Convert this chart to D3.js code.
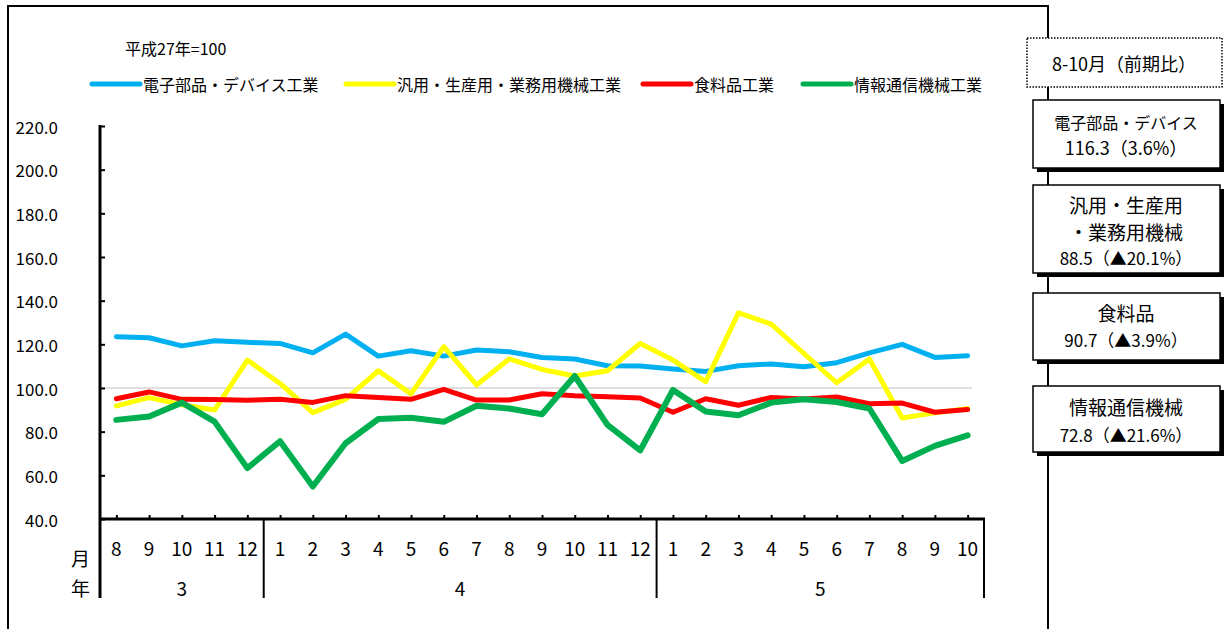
<!DOCTYPE html>
<html><head><meta charset="utf-8">
<script src="https://cdn.jsdelivr.net/npm/d3@7"></script>
<style>
html,body{margin:0;padding:0;background:#fff;}
svg{display:block;font-family:"Noto Sans CJK JP","Noto Sans",sans-serif;}
</style></head>
<body>
<svg id="chart" width="1228" height="629"></svg>
<script>
// ---- data ----
const months = ["8","9","10","11","12","1","2","3","4","5","6","7","8","9","10","11","12","1","2","3","4","5","6","7","8","9","10"];
const yearLabels = ["3","4","5"];
const yearCounts = [5,12,10];
const seriesNames = ["電子部品・デバイス工業","汎用・生産用・業務用機械工業","食料品工業","情報通信機械工業"];
const seriesColors = ["#00B0F0","#FFFF00","#FF0000","#00B050"];
const electronics = [123.5,123.0,119.3,121.6,120.9,120.4,116.1,124.7,114.6,117.1,114.6,117.4,116.6,114.0,113.3,110.2,110.1,108.7,107.6,110.2,111.0,109.7,111.6,116.1,120.0,114.0,114.8];
const machinery  = [91.8,95.6,92.3,89.9,112.8,102.1,88.7,94.8,107.9,97.3,118.9,101.4,113.3,108.5,105.5,107.9,120.4,112.8,102.9,134.4,129.3,115.8,102.4,113.3,86.3,88.6,90.6];
const food       = [95.1,98.2,94.8,94.7,94.4,94.8,93.4,96.5,95.7,94.8,99.4,94.5,94.5,97.4,96.5,96.0,95.4,88.9,95.1,92.1,95.7,95.0,95.9,92.8,93.1,88.9,90.1];
const infoComm   = [85.4,86.9,93.3,84.6,63.3,75.6,54.9,74.7,85.8,86.4,84.5,91.9,90.6,88.0,105.5,83.1,71.4,99.1,89.2,87.5,93.3,94.8,93.6,90.6,66.6,73.5,78.3];
const yTicks = [40,60,80,100,120,140,160,180,200,220];
const baseNote = "平成27年=100";
const periodTitle = "8-10月（前期比）";
const boxLines = [
  ["電子部品・デバイス","116.3（3.6%）"],
  ["汎用・生産用","・業務用機械","88.5（▲20.1%）"],
  ["食料品","90.7（▲3.9%）"],
  ["情報通信機械","72.8（▲21.6%）"]
];

const allSeries = [electronics, machinery, food, infoComm];

const svg = d3.select("#chart");
const idx = d3.range(months.length);

const x = d3.scalePoint().domain(idx).range([100, 984]).padding(0.5);
const step = x.step();
const y = d3.scaleLinear().domain([40, 220]).range([519, 126]);

// outer frame
svg.append("path").attr("d","M8,629 V6 H1048 V629").attr("fill","none").attr("stroke","#000").attr("stroke-width",2);

// reference line at 100
svg.append("line").attr("x1",100).attr("x2",972).attr("y1",y(100)).attr("y2",y(100))
  .attr("stroke","#BFBFBF").attr("stroke-width",1.2);

// y axis
const yAxis = d3.axisRight(y).tickValues(yTicks).tickSize(5).tickFormat("");
const gy = svg.append("g").attr("transform","translate(100,0)").call(yAxis);
gy.select(".domain").remove();
gy.selectAll(".tick line").attr("stroke","#000").attr("stroke-width",2);
svg.append("line").attr("x1",100).attr("x2",100).attr("y1",y(220)-1).attr("y2",598).attr("stroke","#000").attr("stroke-width",3);
svg.append("g").selectAll("text").data(yTicks).join("text")
  .attr("x",58).attr("y",d=>y(d)).attr("text-anchor","end").attr("dominant-baseline","central")
  .attr("font-size",17).text(d=>d.toFixed(1));

// x axis
const xAxis = d3.axisTop(x).tickSize(4).tickFormat("");
const gx = svg.append("g").attr("transform","translate(0,519)").call(xAxis);
gx.select(".domain").remove();
gx.selectAll(".tick line").attr("stroke","#000").attr("stroke-width",2);
svg.append("line").attr("x1",99).attr("x2",985).attr("y1",519).attr("y2",519).attr("stroke","#000").attr("stroke-width",3);

// month labels
svg.append("g").selectAll("text").data(idx).join("text")
  .attr("x",i=>x(i)).attr("y",547).attr("text-anchor","middle").attr("dominant-baseline","central")
  .attr("font-size",19).text(i=>months[i]);

// year separators and labels
let start = 0;
const bounds = [x(0)-step/2];
yearCounts.forEach(c=>{ start += c; bounds.push(x(start-1)+step/2); });
bounds.slice(1).forEach(b=>{
  svg.append("line").attr("x1",b).attr("x2",b).attr("y1",519).attr("y2",598).attr("stroke","#000").attr("stroke-width",2);
});
svg.append("g").selectAll("text").data(yearLabels).join("text")
  .attr("x",(d,i)=>(bounds[i]+bounds[i+1])/2).attr("y",587).attr("text-anchor","middle").attr("dominant-baseline","central")
  .attr("font-size",19).text(d=>d);
svg.append("text").attr("x",90).attr("y",557).attr("text-anchor","end").attr("dominant-baseline","central").attr("font-size",19).text("月");
svg.append("text").attr("x",90).attr("y",587).attr("text-anchor","end").attr("dominant-baseline","central").attr("font-size",19).text("年");

// lines
const line = d3.line().x((d,i)=>x(i)).y(d=>y(d));
allSeries.forEach((s,k)=>{
  svg.append("path").datum(s).attr("d",line).attr("fill","none")
    .attr("stroke",seriesColors[k]).attr("stroke-width",k===3?6:5)
    .attr("stroke-linejoin","round").attr("stroke-linecap","round");
});

// legend
svg.append("text").attr("x",125).attr("y",48).attr("dominant-baseline","central").attr("font-size",16).text(baseNote);
const legX = [92,346,643,803];
seriesNames.forEach((n,k)=>{
  svg.append("line").attr("x1",legX[k]).attr("x2",legX[k]+48).attr("y1",84).attr("y2",84)
    .attr("stroke",seriesColors[k]).attr("stroke-width",5).attr("stroke-linecap","round");
  svg.append("text").attr("x",legX[k]+51).attr("y",84).attr("dominant-baseline","central").attr("font-size",16).text(n);
});

// right panel
svg.append("rect").attr("x",1027).attr("y",38).attr("width",195).attr("height",49)
  .attr("fill","#fff").attr("stroke","#000").attr("stroke-width",1.5).attr("stroke-dasharray","1.5,1.5");
svg.append("text").attr("x",1124).attr("y",63).attr("text-anchor","middle").attr("dominant-baseline","central").attr("font-size",18).text(periodTitle);

const boxes = [
  {y0:100,y1:168,ly:[122,147],fs:[16,18]},
  {y0:185,y1:273,ly:[204,231,257],fs:[19,19,17]},
  {y0:293,y1:360,ly:[312,339],fs:[19,17]},
  {y0:386,y1:452,ly:[406,434],fs:[19,17]}
];
boxes.forEach((b,k)=>{
  svg.append("rect").attr("x",1037).attr("y",b.y0+4).attr("width",187).attr("height",b.y1-b.y0).attr("fill","#000");
  svg.append("rect").attr("x",1033).attr("y",b.y0).attr("width",187).attr("height",b.y1-b.y0)
    .attr("fill","#fff").attr("stroke","#000").attr("stroke-width",1.5);
  boxLines[k].forEach((t,j)=>{
    svg.append("text").attr("x",1126).attr("y",b.ly[j]).attr("text-anchor","middle").attr("dominant-baseline","central")
      .attr("font-size",b.fs[j]).text(t);
  });
});
</script>
</body></html>
